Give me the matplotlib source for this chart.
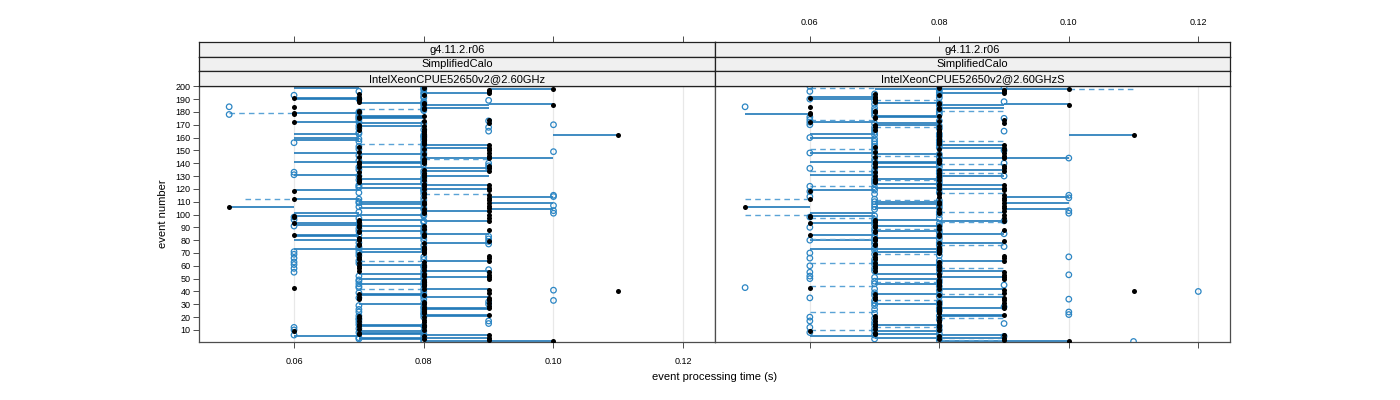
import numpy as np
import matplotlib
matplotlib.use("Agg")
import matplotlib.pyplot as plt

plt.rcParams["font.family"] = ["Liberation Sans", "DejaVu Sans"]

# ---------------- data (times in units of 0.01 s) ----------------
events = list(range(1, 201))

# black reference measurement per event (same in both panels)
black_ref = [10, 9, 8, 9, 8, 9, 7, 7, 6, 8,
             7, 8, 7, 8, 7, 8, 7, 8, 7, 8,
             7, 9, 8, 8, 8, 8, 9, 8, 9, 8,
             9, 8, 9, 7, 9, 7, 8, 7, 9, 11,
             9, 8, 6, 8, 8, 8, 8, 8, 8, 9,
             9, 8, 9, 8, 9, 7, 8, 7, 8, 7,
             8, 7, 8, 9, 7, 9, 7, 9, 7, 8,
             8, 8, 8, 8, 8, 7, 7, 8, 9, 7,
             7, 7, 8, 6, 8, 7, 7, 9, 8, 7,
             8, 7, 6, 7, 9, 7, 9, 6, 6, 9,
             8, 8, 9, 8, 9, 5, 9, 8, 9, 8,
             9, 6, 9, 8, 9, 8, 8, 6, 9, 8,
             9, 8, 9, 8, 7, 7, 8, 7, 8, 7,
             8, 8, 7, 9, 8, 9, 7, 9, 7, 8,
             7, 8, 8, 9, 7, 9, 8, 9, 7, 9,
             8, 9, 7, 9, 8, 8, 8, 8, 8, 8,
             8, 11, 8, 8, 8, 7, 8, 7, 8, 7,
             9, 6, 8, 9, 7, 7, 8, 6, 6, 7,
             7, 8, 8, 6, 10, 8, 8, 7, 7, 7,
             6, 7, 8, 7, 9, 9, 9, 10, 8, 8]

blue_left = [8, 8, 7, 7, 8, 6, 8, 7, 8, 6,
             7, 6, 8, 7, 9, 7, 9, 7, 7, 8,
             7, 8, 8, 7, 8, 7, 8, 8, 7, 9,
             8, 9, 10, 8, 7, 8, 8, 8, 7, 8,
             10, 8, 7, 7, 8, 7, 8, 7, 7, 8,
             8, 7, 8, 8, 6, 8, 9, 6, 8, 8,
             6, 7, 6, 7, 8, 6, 8, 7, 6, 7,
             6, 7, 8, 7, 7, 8, 9, 7, 9, 8,
             9, 8, 9, 7, 8, 8, 7, 8, 7, 8,
             6, 7, 7, 8, 8, 6, 7, 6, 8, 8,
             10, 7, 10, 8, 8, 7, 10, 8, 7, 7,
             8, 7, 8, 10, 10, 8, 7, 8, 8, 8,
             7, 7, 7, 8, 8, 8, 7, 8, 8, 7,
             6, 8, 6, 8, 7, 9, 7, 9, 8, 9,
             8, 7, 8, 8, 8, 7, 8, 8, 10, 8,
             7, 8, 7, 8, 8, 6, 7, 8, 7, 8,
             8, 8, 7, 7, 9, 8, 7, 9, 7, 10,
             8, 7, 9, 7, 7, 7, 7, 5, 7, 7,
             8, 8, 8, 5, 8, 8, 8, 8, 9, 7,
             8, 8, 6, 8, 8, 7, 8, 8, 8, 8]

blue_right = [11, 8, 7, 8, 9, 7, 8, 6, 7, 8,
              7, 6, 8, 7, 9, 7, 6, 8, 7, 6,
              8, 10, 7, 10, 8, 7, 8, 9, 7, 8,
              7, 8, 7, 10, 6, 8, 7, 8, 7, 12,
              8, 7, 5, 8, 9, 7, 8, 7, 8, 6,
              7, 6, 10, 8, 6, 7, 8, 7, 8, 6,
              7, 8, 7, 8, 7, 6, 10, 8, 7, 6,
              8, 7, 8, 7, 9, 8, 7, 8, 7, 6,
              8, 7, 8, 7, 9, 8, 7, 8, 7, 6,
              8, 7, 8, 7, 9, 7, 8, 6, 7, 8,
              10, 8, 10, 7, 8, 7, 8, 7, 8, 7,
              8, 7, 10, 6, 10, 7, 8, 6, 7, 8,
              7, 6, 8, 7, 8, 7, 8, 7, 8, 9,
              7, 8, 7, 8, 7, 6, 8, 7, 8, 9,
              7, 8, 7, 10, 8, 7, 8, 6, 7, 9,
              7, 8, 7, 8, 7, 8, 7, 8, 7, 6,
              8, 7, 8, 7, 9, 7, 8, 7, 8, 6,
              7, 6, 8, 6, 9, 6, 7, 8, 7, 8,
              7, 8, 7, 5, 8, 7, 8, 9, 7, 6,
              8, 7, 8, 7, 8, 6, 8, 8, 9, 6]

# horizontal segments: (event, from, to)
solid_left = [(199, 6, 7), (198, 9, 10), (195, 8, 9), (191, 6, 7), (190, 6, 7), (187, 7, 8),
              (186, 9, 10), (185, 8, 9), (183, 8, 9), (179, 6, 7), (177, 7, 8), (176, 7, 8),
              (175, 7, 8), (172, 6, 7), (171, 7, 8), (169, 7, 8), (163, 6, 7), (162, 10, 11),
              (160, 6, 7), (158, 6, 7), (154, 8, 9), (152, 8, 9), (148, 6, 7),
              (147, 7, 8), (144, 8, 10), (141, 6, 8), (140, 7, 8), (137, 7, 8), (136, 8, 9),
              (134, 8, 9), (131, 6, 7), (130, 8, 9), (128, 7, 8), (124, 7, 8),
              (123, 8, 9), (121, 7, 8), (120, 8, 9), (119, 6, 7), (114, 9, 10), (112, 6, 7),
              (110, 7, 8), (109, 9, 10), (108, 7, 8), (106, 5, 6), (105, 7, 8), (104, 9, 10),
              (103, 8, 9), (101, 6, 7), (100, 7, 8), (99, 6, 7), (96, 7, 8), (95, 8, 9),
              (93, 6, 7), (92, 6, 7), (91, 7, 8), (87, 7, 8), (85, 8, 9), (84, 6, 7),
              (83, 6, 7), (82, 7, 8), (80, 6, 7), (78, 8, 9), (73, 6, 8), (71, 7, 8),
              (64, 8, 9), (61, 7, 8), (56, 8, 9), (54, 7, 8), (51, 8, 9), (50, 7, 8),
              (46, 7, 8), (42, 8, 9), (38, 7, 8), (37, 7, 8), (36, 8, 9), (30, 7, 8),
              (27, 8, 9), (26, 8, 9), (22, 8, 9), (21, 8, 9), (14, 7, 8), (13, 7, 8),
              (9, 7, 8), (8, 7, 8), (7, 7, 8), (6, 8, 9), (5, 6, 7), (4, 7, 9), (3, 7, 8),
              (1, 8, 10)]
dashed_left = [(182, 7, 8), (179, 5, 6), (155, 7, 8), (143, 8, 9), (116, 8, 9),
               (112, 5.25, 6), (64, 7, 8), (42, 7, 8)]

solid_right = [(198, 7, 10), (195, 8, 9), (192, 6, 7), (190, 6, 7), (187, 7, 8),
               (186, 9, 10), (185, 8, 9), (183, 8, 9), (178, 5, 6), (177, 7, 8), (176, 7, 8),
               (172, 6, 7), (171, 7, 8), (170, 7, 8), (163, 6, 7), (162, 10, 11),
               (160, 6, 7), (154, 8, 9), (152, 8, 9), (148, 6, 7), (147, 7, 8), (144, 8, 10),
               (141, 6, 8), (140, 7, 8), (137, 7, 8), (135, 8, 9), (131, 6, 7), (130, 8, 9),
               (128, 7, 8), (124, 7, 8), (123, 8, 9), (121, 7, 8), (120, 8, 9), (119, 6, 7),
               (114, 9, 10), (110, 7, 8), (109, 9, 10), (108, 7, 8), (106, 5, 6), (105, 7, 8),
               (104, 9, 10), (101, 6, 7), (99, 6, 7), (96, 7, 8), (95, 8, 9), (93, 6, 7),
               (91, 7, 8), (87, 7, 8), (85, 8, 9), (84, 6, 7), (82, 7, 8), (80, 6, 7),
               (78, 8, 9), (73, 6, 8), (71, 7, 8), (64, 8, 9), (61, 7, 8), (56, 8, 9),
               (54, 7, 8), (51, 8, 9), (50, 7, 8), (46, 7, 8), (42, 8, 9), (38, 7, 8),
               (36, 8, 9), (30, 7, 8), (27, 8, 9), (22, 8, 9), (21, 8, 9), (14, 7, 8),
               (9, 7, 8), (7, 7, 8), (6, 8, 9), (5, 6, 7), (4, 7, 9), (1, 8, 10)]
dashed_right = [(199, 6, 7), (198, 10, 11), (189, 7, 8), (181, 8, 9), (174, 6, 7),
                (168, 7, 8), (157, 8, 9), (151, 6, 7), (146, 7, 8), (139, 8, 9),
                (134, 6, 7), (132, 8, 9), (127, 7, 8), (122, 6, 7), (117, 8, 9),
                (112, 5, 6), (111, 7, 8), (102, 8, 9), (100, 5, 6), (97, 6, 7),
                (94, 8, 9), (89, 7, 8), (81, 6, 7), (76, 8, 9), (69, 7, 8), (62, 6, 7),
                (58, 8, 9), (47, 7, 8), (44, 6, 7), (38, 8, 9), (33, 7, 8), (24, 6, 7),
                (19, 8, 9), (12, 7, 8), (10, 6, 7), (2, 8, 9)]

strip_top = "g4.11.2.r06"
strip_mid = "SimplifiedCalo"
panel_names = ["IntelXeonCPUE52650v2@2.60GHz", "IntelXeonCPUE52650v2@2.60GHzS"]
xticks = [0.06, 0.08, 0.10, 0.12]
xticklabels = ["0.06", "0.08", "0.10", "0.12"]
yticks = list(range(10, 201, 10))

panels = [
    (panel_names[0], black_ref, blue_left, solid_left, dashed_left),
    (panel_names[1], black_ref, blue_right, solid_right, dashed_right),
]

# ---------------- styling ----------------
W, H = 1400, 400
XLIM = (0.04535, 0.1249)
YLIM = (0.6, 200.2)
SOLID_C = "#1f78b8"
DASH_C = "#5aa3d6"
CIRC_C = "#2c86c4"
FRAME_C = "#4d4d4d"
STRIP_BG = "#f0f0f0"


def fr(x0, y0, x1, y1):
    return [x0 / W, 1 - y1 / H, (x1 - x0) / W, (y1 - y0) / H]


fig = plt.figure(figsize=(14, 4), dpi=100)

pxl = [(199, 715), (715, 1230)]
strip_rows = [(42, 56.5), (56.5, 71), (71, 86)]

for i, (name, black, blue, solid, dashed) in enumerate(panels):
    x0, x1 = pxl[i]
    ax = fig.add_axes(fr(x0, 86, x1, 342))
    ax.set_xlim(*XLIM)
    ax.set_ylim(*YLIM)
    for xt in xticks:
        ax.axvline(xt, color="#e8e8e8", lw=0.9, zorder=0)

    ev = np.array(events)
    if solid:
        s = np.array(solid, dtype=float)
        ax.hlines(s[:, 0], s[:, 1] * 0.01, s[:, 2] * 0.01, colors=SOLID_C,
                  lw=1.2, zorder=2)
    if dashed:
        d = np.array(dashed, dtype=float)
        ax.hlines(d[:, 0], d[:, 1] * 0.01, d[:, 2] * 0.01, colors=DASH_C,
                  lw=1.0, linestyles=(0, (4, 3)), zorder=2)
    ax.scatter(np.array(blue) * 0.01, ev, s=16, facecolors="none",
               edgecolors=CIRC_C, linewidths=0.9, zorder=3)
    ax.scatter(np.array(black) * 0.01, ev, s=13, color="black",
               linewidths=0, zorder=4)

    for sp in ax.spines.values():
        sp.set_color(FRAME_C)
        sp.set_linewidth(0.9)

    ax.set_xticks(xticks)
    ax.set_yticks(yticks)
    ax.tick_params(axis="both", direction="out", length=4, width=0.7,
                   colors=FRAME_C, labelcolor="black", labelsize=6.5, pad=2)
    if i == 0:
        ax.set_xticklabels(xticklabels)
        ax.tick_params(axis="y", left=True, right=False, labelleft=True)
    else:
        ax.set_xticklabels([])
        ax.tick_params(axis="y", left=False, right=False, labelleft=False,
                       labelright=False)
    ax.tick_params(axis="x", pad=7)

    texts = [strip_top, strip_mid, name]
    for j, (sy0, sy1) in enumerate(strip_rows):
        sax = fig.add_axes(fr(x0, sy0, x1, sy1))
        sax.set_facecolor(STRIP_BG)
        sax.set_xlim(*XLIM)
        sax.set_ylim(0, 1)
        sax.set_yticks([])
        for sp in sax.spines.values():
            sp.set_color("#222222")
            sp.set_linewidth(0.9)
        sax.text(0.5, 0.45, texts[j], transform=sax.transAxes, ha="center",
                 va="center", fontsize=8)
        if j == 0:
            sax.xaxis.set_ticks_position("top")
            sax.set_xticks(xticks)
            sax.tick_params(axis="x", direction="out", length=4, width=0.7,
                            colors=FRAME_C, labelcolor="black", labelsize=6.5,
                            pad=7)
            if i == 1:
                sax.set_xticklabels(xticklabels)
            else:
                sax.set_xticklabels([])
        else:
            sax.set_xticks([])

fig.text(715 / W, 1 - 377 / H, "event processing time (s)", ha="center",
         va="center", fontsize=8)
fig.text(163 / W, 1 - 214 / H, "event number", ha="center", va="center",
         rotation=90, fontsize=8)

fig.savefig("out.png", dpi=100)
